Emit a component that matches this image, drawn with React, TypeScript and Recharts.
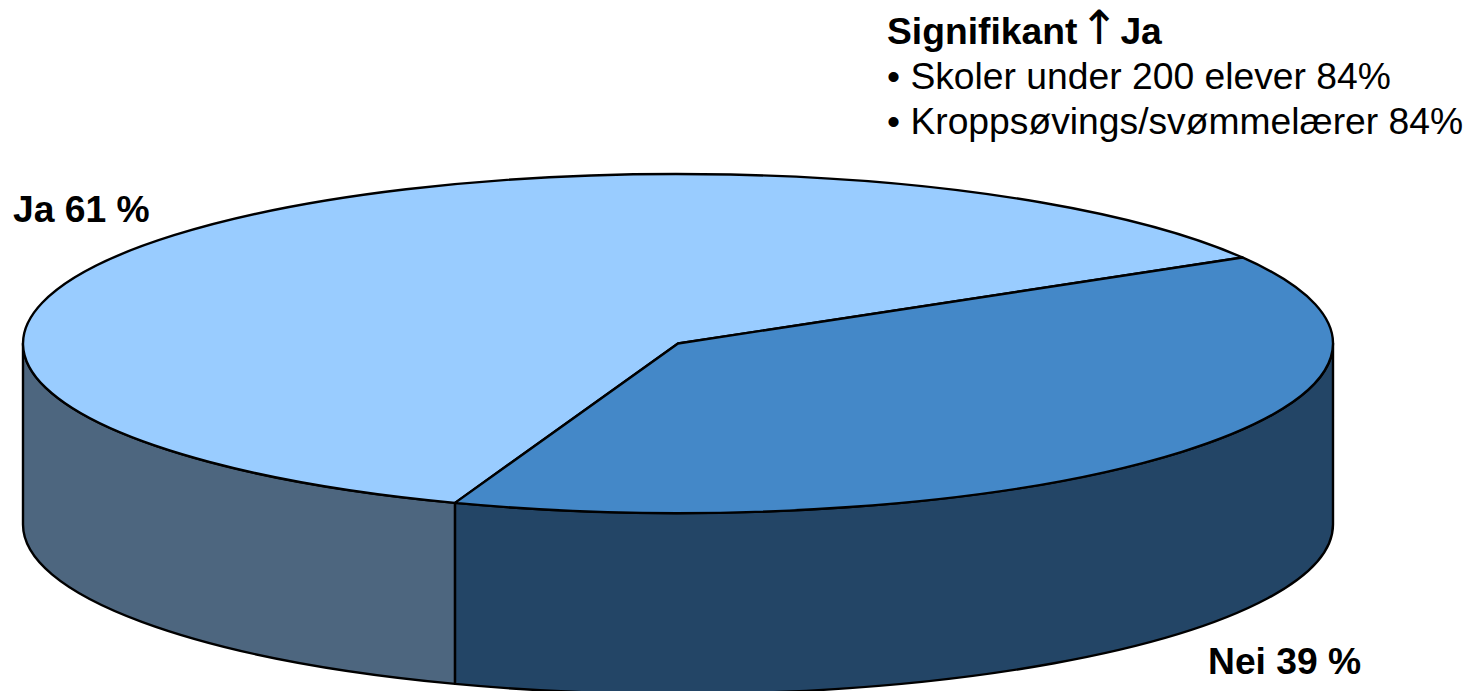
import React from "react";
import { PieChart, Pie } from "recharts";

const categories = ["Ja", "Nei"];
const values = [61, 39];
const topColors = ["#99CCFF", "#4488C8"];
const sideColors = ["#4D667F", "#234566"];
const noteTitle = "Signifikant";
const noteTitleEnd = "Ja";
const noteLines = ["• Skoler under 200 elever 84%", "• Kroppsøvings/svømmelærer 84%"];

const rows = categories.map((name, i) => ({
  name,
  value: values[i],
  fill: topColors[i],
  side: sideColors[i],
}));

const W = 1468;
const H = 691;
const CX = 678;
const CY = 343.5;
const RX = 655;
const RY = 169.5;
const DEPTH = 181;
const FONT = "'Liberation Sans', Arial, sans-serif";

function pt(cx: number, cy: number, rx: number, ry: number, deg: number) {
  const t = (deg * Math.PI) / 180;
  return [cx + rx * Math.cos(t), cy - ry * Math.sin(t)];
}

function Slice(props: any) {
  const { cx, cy, outerRadius, startAngle, endAngle, fill, payload } = props;
  const rx = outerRadius;
  const ry = (outerRadius * RY) / RX;
  const a0 = Math.min(startAngle, endAngle);
  const a1 = Math.max(startAngle, endAngle);
  const [sx, sy] = pt(cx, cy, rx, ry, a0);
  const [ex, ey] = pt(cx, cy, rx, ry, a1);
  const large = a1 - a0 > 180 ? 1 : 0;
  const top = `M${cx} ${cy}L${sx} ${sy}A${rx} ${ry} 0 ${large} 0 ${ex} ${ey}Z`;
  const s0 = Math.max(a0, 180);
  const s1 = Math.min(a1, 360);
  let side = "";
  if (s1 > s0) {
    const [ax, ay] = pt(cx, cy, rx, ry, s0);
    const [bx, by] = pt(cx, cy, rx, ry, s1);
    side = `M${ax} ${ay}A${rx} ${ry} 0 0 0 ${bx} ${by}L${bx} ${by + DEPTH}A${rx} ${ry} 0 0 1 ${ax} ${ay + DEPTH}Z`;
  }
  return (
    <g>
      {side && <path d={side} fill={payload.side} stroke="#000" strokeWidth={2.4} strokeLinejoin="round" />}
      <path d={top} fill={fill} stroke="#000" strokeWidth={2.4} strokeLinejoin="round" />
    </g>
  );
}

const labelPos = [
  { x: 13, y: 222 },
  { x: 1208, y: 674 },
];

function SliceLabel(props: any) {
  const i = props.index;
  return (
    <text x={labelPos[i].x} y={labelPos[i].y} fontFamily={FONT} fontWeight="bold" fontSize={37.25} fill="#000" textAnchor="start">
      {`${categories[i]} ${values[i]} %`}
    </text>
  );
}

export default function App() {
  return (
    <div style={{ position: "absolute", left: 0, top: 0, width: W, height: H, overflow: "hidden", background: "#fff" }}>
      <PieChart width={W} height={H} margin={{ top: 0, right: 0, bottom: 0, left: 0 }}>
        <Pie
          data={rows}
          dataKey="value"
          nameKey="name"
          cx={CX}
          cy={CY}
          innerRadius={0}
          outerRadius={RX}
          startAngle={30.5}
          endAngle={390.5}
          paddingAngle={0}
          shape={Slice}
          label={SliceLabel}
          labelLine={false}
          isAnimationActive={false}
        />
      </PieChart>
      <div style={{ position: "absolute", left: 887, top: 9, fontFamily: FONT, fontSize: 37.25, lineHeight: "45px", color: "#000", whiteSpace: "nowrap" }}>
        <div style={{ fontWeight: "bold", display: "flex", alignItems: "baseline", height: 45, position: "relative", top: -4 }}>
          <span>{noteTitle}</span>
          <span style={{ fontWeight: "normal", fontFamily: "'DejaVu Sans'", fontSize: 47, lineHeight: "45px", width: 43, textAlign: "center" }}>↑</span>
          <span>{noteTitleEnd}</span>
        </div>
        {noteLines.map((l) => (
          <div key={l}>{l}</div>
        ))}
      </div>
    </div>
  );
}
